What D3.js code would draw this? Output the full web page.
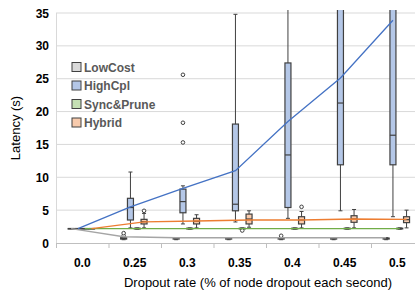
<!DOCTYPE html>
<html>
<head>
<meta charset="utf-8">
<script src="https://cdnjs.cloudflare.com/ajax/libs/d3/7.8.5/d3.min.js"></script>
<style>
  body { margin: 0; background: #fff; }
  svg { display: block; font-family: "Liberation Sans", Arial, sans-serif; }
</style>
</head>
<body>
<div id="chart"></div>
<script>
// categories on the x axis
var categories = ["0.0", "0.25", "0.3", "0.35", "0.4", "0.45", "0.5"];
var seriesNames = ["LowCost", "HighCpl", "Sync&Prune", "Hybrid"];
var yTicks = [0, 5, 10, 15, 20, 25, 30, 35];

// box stats per series, one value per category (values above 35 run off the top)
var lowCostMin = [2.2, 0.5, 0.5, 0.5, 0.5, 0.5, 0.5];
var lowCostQ1 = [2.2, 0.6, 0.6, 0.6, 0.6, 0.6, 0.6];
var lowCostMed = [2.2, 0.7, 0.7, 0.7, 0.7, 0.7, 0.7];
var lowCostQ3 = [2.2, 0.8, 0.75, 0.75, 0.75, 0.75, 0.75];
var lowCostMax = [2.2, 0.9, 0.8, 0.8, 0.8, 0.8, 0.8];
var lowCostMean = [2.2, 0.95, 0.8, 0.8, 0.8, 0.8, 0.8];
var lowCostOut = [[], [1.1, 1.5], [], [], [1.1], [], []];

var highCplMin = [2.2, 2.3, 2.9, 3.2, 3.75, 4.9, 4.0];
var highCplQ1 = [2.2, 3.5, 4.6, 4.9, 5.4, 11.9, 11.9];
var highCplMed = [2.2, 5.4, 6.3, 5.9, 13.4, 21.3, 16.4];
var highCplQ3 = [2.2, 6.8, 8.2, 18.1, 27.4, 40, 40];
var highCplMax = [2.2, 10.8, 8.7, 34.8, 45, 50, 50];
var highCplMean = [2.2, 5.5, 8.3, 11.0, 18.5, 25.1, 33.9];
var highCplOut = [[], [], [15.3, 18.3, 25.6], [], [], [], []];

var syncMin = [2.2, 2.1, 2.1, 2.1, 2.1, 2.1, 2.1];
var syncQ1 = [2.2, 2.15, 2.15, 2.15, 2.15, 2.15, 2.15];
var syncMed = [2.2, 2.2, 2.2, 2.2, 2.2, 2.2, 2.2];
var syncQ3 = [2.2, 2.25, 2.25, 2.25, 2.25, 2.25, 2.25];
var syncMax = [2.2, 2.3, 2.3, 2.3, 2.3, 2.3, 2.3];
var syncMean = [2.2, 2.2, 2.2, 2.2, 2.2, 2.2, 2.2];
var syncOut = [[], [], [], [1.9], [], [], []];

var hybridMin = [2.2, 2.3, 2.3, 2.4, 2.3, 2.3, 2.3];
var hybridQ1 = [2.2, 2.9, 2.9, 2.9, 2.9, 3.15, 3.1];
var hybridMed = [2.2, 3.25, 3.3, 3.65, 3.5, 3.65, 3.55];
var hybridQ3 = [2.2, 3.6, 3.75, 4.4, 4.0, 4.15, 4.0];
var hybridMax = [2.2, 4.5, 4.3, 4.9, 4.8, 5.1, 5.0];
var hybridMean = [2.2, 3.2, 3.35, 3.5, 3.5, 3.65, 3.6];
var hybridOut = [[], [4.9], [], [], [5.5], [], []];

var fills = ["#d9d9d9", "#b4c7e7", "#c5e0b4", "#f8cbad"];
var lineColors = ["#a5a5a5", "#4472c4", "#70ad47", "#ed7d31"];

function build_series(i, mins, q1s, meds, q3s, maxs, means, outs){
    return {
        name: seriesNames[i], idx: i,
        boxes: categories.map(function(c, j){
            return {cat: c, min: mins[j], q1: q1s[j], med: meds[j], q3: q3s[j],
                    max: maxs[j], mean: means[j], out: outs[j]};
        })
    };
}

var series = [
    build_series(0, lowCostMin, lowCostQ1, lowCostMed, lowCostQ3, lowCostMax, lowCostMean, lowCostOut),
    build_series(1, highCplMin, highCplQ1, highCplMed, highCplQ3, highCplMax, highCplMean, highCplOut),
    build_series(2, syncMin, syncQ1, syncMed, syncQ3, syncMax, syncMean, syncOut),
    build_series(3, hybridMin, hybridQ1, hybridMed, hybridQ3, hybridMax, hybridMean, hybridOut)
];

var width = 415, height = 298;
var plot = {left: 56, top: 13, bottom: 243};

var svg = d3.select("#chart").append("svg")
    .attr("width", width)
    .attr("height", height);

svg.append("rect").attr("width", width).attr("height", height).attr("fill", "#fff");

var x = d3.scaleBand().domain(categories).range([plot.left, plot.left + 7 * 52.5]).padding(0);
var y = d3.scaleLinear().domain([0, 35]).range([plot.bottom, plot.top]);

// slot of each series inside a category
var slot = d3.scaleLinear().domain([0, 3]).range([-11.1, 9.3]);
function cx(cat, i){ return x(cat) + x.bandwidth() / 2 + slot(i); }

// gridlines
svg.append("g").selectAll("line").data(yTicks.slice(1)).enter().append("line")
    .attr("x1", plot.left).attr("x2", width)
    .attr("y1", function(d){ return y(d); }).attr("y2", function(d){ return y(d); })
    .attr("stroke", "#d9d9d9").attr("stroke-width", 1);

// axis lines
svg.append("line").attr("x1", plot.left + 0.5).attr("x2", plot.left + 0.5)
    .attr("y1", plot.top).attr("y2", plot.bottom).attr("stroke", "#d9d9d9");
svg.append("line").attr("x1", plot.left).attr("x2", width)
    .attr("y1", plot.bottom + 0.5).attr("y2", plot.bottom + 0.5).attr("stroke", "#bfbfbf");

// x tick marks at category boundaries
svg.append("g").selectAll("line").data(categories).enter().append("line")
    .attr("x1", function(d){ return x(d) + 0.5; }).attr("x2", function(d){ return x(d) + 0.5; })
    .attr("y1", plot.bottom).attr("y2", plot.bottom + 5)
    .attr("stroke", "#bfbfbf");

// y tick labels
svg.append("g").selectAll("text").data(yTicks).enter().append("text")
    .attr("x", 49).attr("y", function(d){ return y(d) + 4.5; })
    .attr("text-anchor", "end").attr("font-size", 12).attr("font-weight", "bold")
    .attr("fill", "#000").text(function(d){ return d; });

// x tick labels
svg.append("g").selectAll("text").data(categories).enter().append("text")
    .attr("x", function(d){ return x(d) + x.bandwidth() / 2; }).attr("y", 267)
    .attr("text-anchor", "middle").attr("font-size", 12).attr("font-weight", "bold")
    .attr("fill", "#000").text(function(d){ return d; });

// axis titles
svg.append("text").attr("x", 258).attr("y", 287).attr("text-anchor", "middle")
    .attr("font-size", 13).attr("fill", "#000")
    .text("Dropout rate (% of node dropout each second)");
svg.append("text").attr("transform", "translate(20," + ((plot.top + plot.bottom) / 2) + ") rotate(-90)")
    .attr("text-anchor", "middle").attr("font-size", 13).attr("fill", "#000")
    .text("Latency (s)");

svg.append("clipPath").attr("id", "plotclip").append("rect")
    .attr("x", plot.left).attr("y", plot.top - 3).attr("width", width).attr("height", height);

var body = svg.append("g").attr("clip-path", "url(#plotclip)");
var boxW = 6;

series.forEach(function(s){
    var g = body.append("g");
    var b = g.selectAll("g.box").data(s.boxes).enter().append("g").attr("class", "box");

    // whiskers
    b.append("line")
        .attr("x1", function(d){ return cx(d.cat, s.idx); }).attr("x2", function(d){ return cx(d.cat, s.idx); })
        .attr("y1", function(d){ return y(d.max); }).attr("y2", function(d){ return y(d.min); })
        .attr("stroke", "#404040").attr("stroke-width", 1);
    b.selectAll("line.cap").data(function(d){ return [d.min, d.max].map(function(v){ return {cat: d.cat, v: v}; }); })
        .enter().append("line").attr("class", "cap")
        .attr("x1", function(d){ return cx(d.cat, s.idx) - 2; }).attr("x2", function(d){ return cx(d.cat, s.idx) + 2; })
        .attr("y1", function(d){ return y(d.v); }).attr("y2", function(d){ return y(d.v); })
        .attr("stroke", "#404040").attr("stroke-width", 1);

    // box
    b.append("rect")
        .attr("x", function(d){ return cx(d.cat, s.idx) - boxW / 2; })
        .attr("y", function(d){ return y(d.q3); })
        .attr("width", boxW)
        .attr("height", function(d){ return Math.max(y(d.q1) - y(d.q3), 0.5); })
        .attr("fill", fills[s.idx]).attr("stroke", "#404040").attr("stroke-width", 1.2);

    // median
    b.append("line")
        .attr("x1", function(d){ return cx(d.cat, s.idx) - boxW / 2; })
        .attr("x2", function(d){ return cx(d.cat, s.idx) + boxW / 2; })
        .attr("y1", function(d){ return y(d.med); }).attr("y2", function(d){ return y(d.med); })
        .attr("stroke", "#404040").attr("stroke-width", 1.2);

    // outliers
    b.selectAll("circle").data(function(d){ return d.out.map(function(v){ return {cat: d.cat, v: v}; }); })
        .enter().append("circle")
        .attr("cx", function(d){ return cx(d.cat, s.idx); })
        .attr("cy", function(d){ return y(d.v); })
        .attr("r", 1.8)
        .attr("fill", "#fff").attr("stroke", "#404040").attr("stroke-width", 1);
});

// mean lines on top
var meanLine = d3.line()
    .x(function(d){ return d.x; })
    .y(function(d){ return y(d.mean); });

series.forEach(function(s){
    body.append("path")
        .datum(s.boxes.map(function(d){ return {x: cx(d.cat, s.idx), mean: d.mean}; }))
        .attr("d", meanLine)
        .attr("fill", "none")
        .attr("stroke", lineColors[s.idx])
        .attr("stroke-width", 1.3);
});

// legend
var legend = svg.append("g").selectAll("g").data(seriesNames).enter().append("g")
    .attr("transform", function(d, i){ return "translate(72," + (67 + i * 18.5) + ")"; });
legend.append("rect").attr("x", 0).attr("y", -4.5).attr("width", 9).attr("height", 9)
    .attr("fill", function(d, i){ return fills[i]; })
    .attr("stroke", "#404040").attr("stroke-width", 1);
legend.append("text").attr("x", 12).attr("y", 4.5)
    .attr("font-size", 12).attr("font-weight", "bold").attr("fill", "#595959")
    .text(function(d){ return d; });
</script>
</body>
</html>
